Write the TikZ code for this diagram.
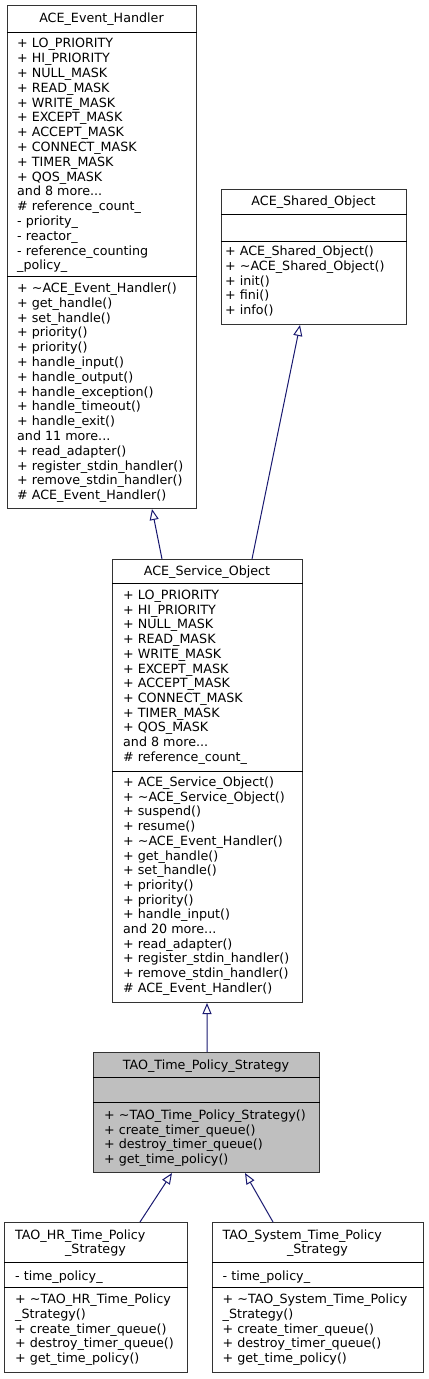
\documentclass[tikz,border=0pt]{standalone}
\usepackage{fontspec}
\setmainfont{DejaVu Sans}
\usetikzlibrary{arrows.meta}

\definecolor{edgeblue}{HTML}{191970}
\definecolor{boxgray}{HTML}{BFBFBF}
\definecolor{boxline}{HTML}{333333}
\newcommand{\umlfont}{\fontsize{12.7bp}{14.7bp}\selectfont}

\tikzset{
  classbox/.style={draw=boxline, line width=1bp, anchor=north west, inner sep=0pt, fill=white},
  classname/.style={anchor=base, inner sep=0pt, font=\umlfont},
  member/.style={anchor=base west, inner sep=0pt, font=\umlfont},
  inherit/.style={draw=edgeblue, line width=1bp, -{Triangle[open, length=11bp, width=9bp]}}
}

\begin{document}
\begin{tikzpicture}[x=1bp, y=-1bp]
  \useasboundingbox (0,0) rectangle (428,1379);

  \begin{scope}[every node/.style={classbox}]
    \node[minimum width=189bp, minimum height=503bp] (eh)  at (7,5)     {};
    \node[minimum width=185bp, minimum height=135bp] (sh)  at (221,189) {};
    \node[minimum width=190bp, minimum height=443bp] (svc) at (112,559) {};
    \node[minimum width=226bp, minimum height=120bp, fill=boxgray] (tao) at (93,1052) {};
    \node[minimum width=183bp, minimum height=150bp] (hr)  at (4,1222)  {};
    \node[minimum width=211bp, minimum height=150bp] (sys) at (212,1222) {};
  \end{scope}

  \draw ([yshift=-27bp]eh.north west)   -- ([yshift=-27bp]eh.north east);
  \draw ([yshift=-271bp]eh.north west)  -- ([yshift=-271bp]eh.north east);
  \draw ([yshift=-25bp]sh.north west)   -- ([yshift=-25bp]sh.north east);
  \draw ([yshift=-52bp]sh.north west)   -- ([yshift=-52bp]sh.north east);
  \draw ([yshift=-24bp]svc.north west)  -- ([yshift=-24bp]svc.north east);
  \draw ([yshift=-212bp]svc.north west) -- ([yshift=-212bp]svc.north east);
  \draw ([yshift=-25bp]tao.north west)  -- ([yshift=-25bp]tao.north east);
  \draw ([yshift=-50bp]tao.north west)  -- ([yshift=-50bp]tao.north east);
  \draw ([yshift=-40bp]hr.north west)   -- ([yshift=-40bp]hr.north east);
  \draw ([yshift=-65bp]hr.north west)   -- ([yshift=-65bp]hr.north east);
  \draw ([yshift=-40bp]sys.north west)  -- ([yshift=-40bp]sys.north east);
  \draw ([yshift=-65bp]sys.north west)  -- ([yshift=-65bp]sys.north east);

  \node[classname] (eh-name)  at (101.5,23)  {ACE\_Event\_Handler};
  \node[classname] (sh-name)  at (313.5,206) {ACE\_Shared\_Object};
  \node[classname] (svc-name) at (207,575.5) {ACE\_Service\_Object};
  \node[classname] (tao-name) at (206,1069)  {TAO\_Time\_Policy\_Strategy};
  \node[member]    (hr-name)  at (15,1239.5) {TAO\_HR\_Time\_Policy};
  \node[classname] (hr-name2) at (95.5,1253.5) {\_Strategy};
  \node[member]    (sys-name)  at (222.5,1239.5) {TAO\_System\_Time\_Policy};
  \node[classname] (sys-name2) at (317.5,1253.5) {\_Strategy};

  \foreach \m [count=\i from 0] in {+ LO\_PRIORITY, + HI\_PRIORITY, + NULL\_MASK,
      + READ\_MASK, + WRITE\_MASK, + EXCEPT\_MASK, + ACCEPT\_MASK, + CONNECT\_MASK,
      + TIMER\_MASK, + QOS\_MASK, and 8 more{...}, \# reference\_count\_,
      - priority\_, - reactor\_, - reference\_counting, \_policy\_}
    \node[member] at (17,{48+14.8*\i}) {\m};
  \foreach \m [count=\i from 0] in {+ \textasciitilde ACE\_Event\_Handler(),
      + get\_handle(), + set\_handle(), + priority(), + priority(), + handle\_input(),
      + handle\_output(), + handle\_exception(), + handle\_timeout(), + handle\_exit(),
      and 11 more{...}, + read\_adapter(), + register\_stdin\_handler(),
      + remove\_stdin\_handler(), \# ACE\_Event\_Handler()}
    \node[member] at (17,{292.5+14.8*\i}) {\m};

  \foreach \m [count=\i from 0] in {+ ACE\_Shared\_Object(),
      + \textasciitilde ACE\_Shared\_Object(), + init(), + fini(), + info()}
    \node[member] at (225,{255.5+14.8*\i}) {\m};

  \foreach \m [count=\i from 0] in {+ LO\_PRIORITY, + HI\_PRIORITY, + NULL\_MASK,
      + READ\_MASK, + WRITE\_MASK, + EXCEPT\_MASK, + ACCEPT\_MASK, + CONNECT\_MASK,
      + TIMER\_MASK, + QOS\_MASK, and 8 more{...}, \# reference\_count\_}
    \node[member] at (123,{599.5+14.7*\i}) {\m};
  \foreach \m [count=\i from 0] in {+ ACE\_Service\_Object(),
      + \textasciitilde ACE\_Service\_Object(), + suspend(), + resume(),
      + \textasciitilde ACE\_Event\_Handler(), + get\_handle(), + set\_handle(),
      + priority(), + priority(), + handle\_input(), and 20 more{...},
      + read\_adapter(), + register\_stdin\_handler(), + remove\_stdin\_handler(),
      \# ACE\_Event\_Handler()}
    \node[member] at (123,{786.5+14.7*\i}) {\m};

  \foreach \m [count=\i from 0] in {+ \textasciitilde TAO\_Time\_Policy\_Strategy(),
      + create\_timer\_queue(), + destroy\_timer\_queue(), + get\_time\_policy()}
    \node[member] at (104,{1119.5+14.5*\i}) {\m};

  \node[member] at (15,1280.5) {- time\_policy\_};
  \foreach \m [count=\i from 0] in {+ \textasciitilde TAO\_HR\_Time\_Policy,
      \_Strategy(), + create\_timer\_queue(), + destroy\_timer\_queue(),
      + get\_time\_policy()}
    \node[member] at (15,{1303.5+14.75*\i}) {\m};

  \node[member] at (222.5,1280.5) {- time\_policy\_};
  \foreach \m [count=\i from 0] in {+ \textasciitilde TAO\_System\_Time\_Policy,
      \_Strategy(), + create\_timer\_queue(), + destroy\_timer\_queue(),
      + get\_time\_policy()}
    \node[member] at (222.5,{1303.5+14.75*\i}) {\m};

  \begin{scope}[every edge/.style={inherit}]
    \path ([xshift=50bp]svc.north west)  edge ([xshift=145bp]eh.south west);
    \path ([xshift=140bp]svc.north west) edge ([xshift=79bp]sh.south west);
    \path ([xshift=114bp]tao.north west) edge ([xshift=95bp]svc.south west);
    \path ([xshift=136bp]hr.north west)  edge ([xshift=79bp]tao.south west);
    \path ([xshift=61bp]sys.north west)  edge ([xshift=152bp]tao.south west);
  \end{scope}

\end{tikzpicture}
\end{document}
